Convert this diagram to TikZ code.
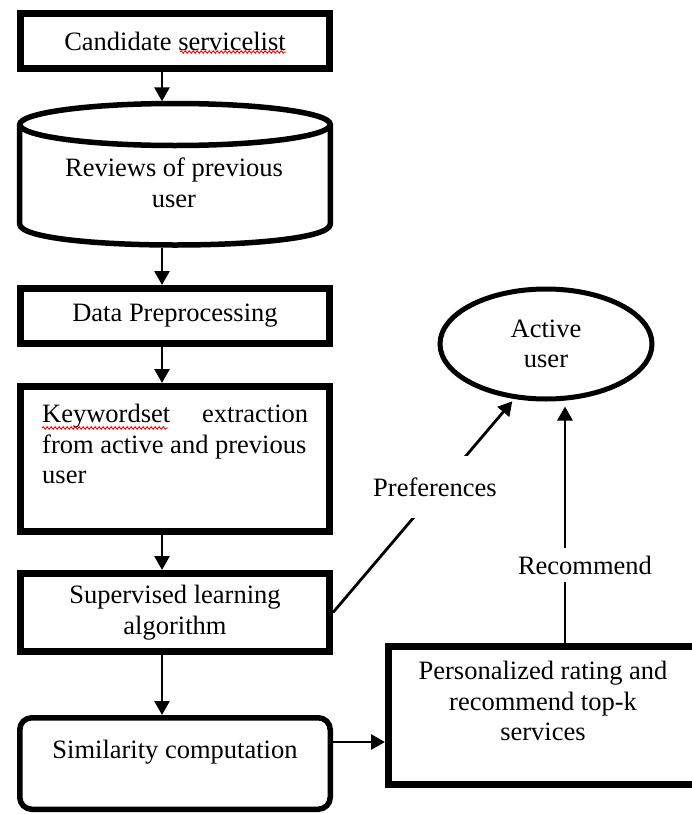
\documentclass[tikz,border=0pt]{standalone}
\usepackage{fontspec}
\setmainfont{Liberation Serif}
\usetikzlibrary{arrows.meta,shapes.geometric,calc,decorations.pathmorphing}
\begin{document}
\begin{tikzpicture}[x=1pt,y=-1pt,
  every node/.style={font=\fontsize{26.5}{30.5}\selectfont, inner sep=0pt},
  box/.style={draw, line width=7pt, rectangle, align=center, minimum width=309pt},
  rbox/.style={draw, line width=5.5pt, rectangle, rounded corners=12pt, minimum width=310.5pt},
  txt/.style={align=center},
  conn/.style={line width=2.8pt, -{Triangle[length=14pt,width=15pt]}},
  lbl/.style={fill=white, inner xsep=2pt},
  spell/.style={red, line width=0.9pt, decorate, decoration={snake, amplitude=1.3pt, segment length=4pt}}]
\useasboundingbox (0,0) rectangle (692,814);

% left column
\node[box, minimum height=55pt] (cand) at (175,41) {Candidate servicelist};

\node[minimum width=316pt, minimum height=146pt] (rev) at (175,174.5) {};
\draw[line width=5.5pt] (175,124.5) ellipse [x radius=155.3, y radius=21];
\draw[line width=5.5pt] (19.7,124.5) -- (19.7,224)
  .. controls (19.7,252) and (330.3,252) .. (330.3,224) -- (330.3,124.5);
\node[txt] (revt) at (174,183) {Reviews of previous\\user};

\node[box, minimum height=55pt] (pre) at (175,316) {Data Preprocessing};

\node[box, minimum height=145pt] (kw) at (175,459) {};
\node[anchor=north west, align=left] (kwt) at (42,404)
  {\makebox[266pt][l]{Keywordset\hfill extraction}\\\mbox{from active and previous}\\user};

\node[box, minimum height=78pt] (sup) at (175,612.5) {Supervised learning\\algorithm};

\node[rbox, minimum height=91.5pt] (sim) at (175,763.5) {};
\node[txt] (simt) at (175,752) {Similarity computation};

% right column
\node[box, minimum height=138pt] (pers) at (543,715.5) {};
\node[txt] (perst) at (543,701) {Personalized rating and\\recommend top-k\\services};

\node[draw, ellipse, line width=5pt, minimum width=212pt, minimum height=110pt, align=center] (au) at (546,344) {Active\\user};

% connectors
\coordinate (ax) at (162,0);
\coordinate (ay) at (0,742);
\coordinate (rx) at (565,0);
\draw[conn] (cand.south -| ax) -- (rev.north -| ax);
\draw[conn] (rev.south -| ax) -- (pre.north -| ax);
\draw[conn] (pre.south -| ax) -- (kw.north -| ax);
\draw[conn] (kw.south -| ax) -- (sup.north -| ax);
\draw[conn] (sup.south -| ax) -- (sim.north -| ax);
\draw[conn] (sim.east |- ay) -- (pers.west |- ay);
\draw[conn, shorten >=5pt] (pers.north -| rx) -- (rx |- au.south);
\draw[conn, shorten >=3pt] (sup.east) -- (au.240);

\node[lbl, inner ysep=8pt] (reclbl) at (585,565) {Recommend};
\node[lbl, inner ysep=22pt] (preflbl) at (435,487) {Preferences};

% spell-check marks
\draw[spell] ($(cand.center)+(5,11)$) -- ($(cand.center)+(111,11)$);
\draw[spell] ($(kwt.north west)+(0,24)$) -- ($(kwt.north west)+(126,24)$);
\end{tikzpicture}
\end{document}
